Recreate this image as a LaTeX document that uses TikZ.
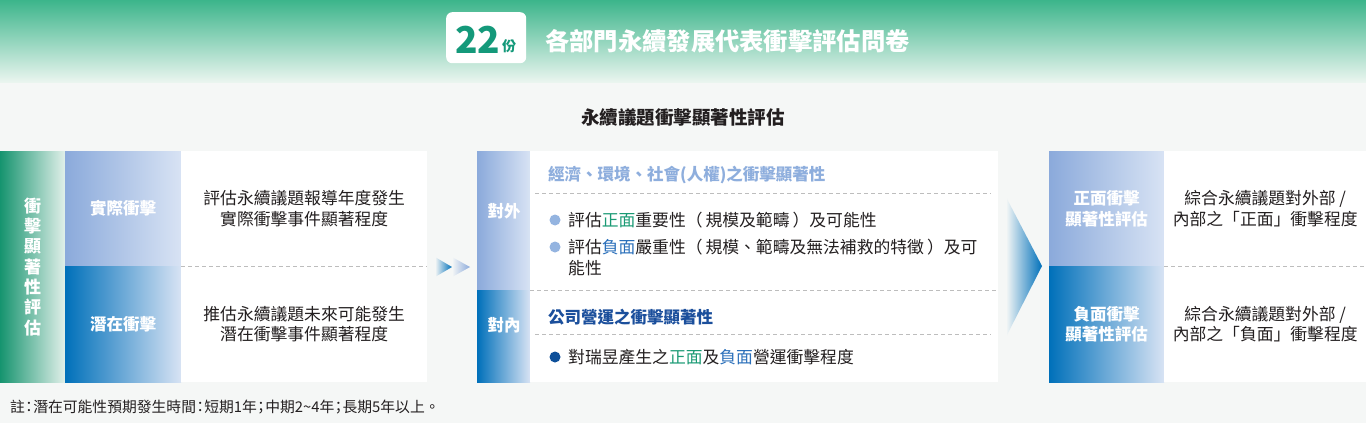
\documentclass[tikz,border=0pt]{standalone}
\usepackage{fontspec}
\newfontfamily\cjk{Noto Sans CJK TC}
\definecolor{bg}{HTML}{F5F7F6}
\definecolor{hgA}{HTML}{3CB58B}
\definecolor{hgB}{HTML}{5DBE98}
\definecolor{hgC}{HTML}{EAF5EF}
\definecolor{badgeg}{HTML}{14997A}
\definecolor{gA}{HTML}{16946F}
\definecolor{gB}{HTML}{7FC2A9}
\definecolor{gC}{HTML}{E2F0EA}
\definecolor{lbA}{HTML}{8BAADB}
\definecolor{lbC}{HTML}{D8E3F4}
\definecolor{dbA}{HTML}{0070BA}
\definecolor{dbB}{HTML}{5B93D0}
\definecolor{txt}{HTML}{231F20}
\definecolor{hlight}{HTML}{8EAEDD}
\definecolor{hdark}{HTML}{1B4F9C}
\definecolor{posg}{HTML}{1A9A74}
\definecolor{negb}{HTML}{2A6FBA}
\definecolor{bul1}{HTML}{94B4E0}
\definecolor{bul3}{HTML}{0D4F99}
\definecolor{dashc}{HTML}{BDBDBD}
\newcommand\zhcolon{\kern-0.22em：\kern-0.22em}
\newcommand\zhsemi{\kern-0.22em；\kern-0.22em}
\newcommand\lpar{（\hspace{3pt}}
\newcommand\rpar{\hspace{3pt}）}
\begin{document}
\begin{tikzpicture}[x=1pt,y=-1pt,font=\cjk,
  cellbase/.style={anchor=north west,inner sep=0pt,draw=none,align=center},
  gcell/.style={cellbase,left color=gA,middle color=gB,right color=gC,text=white,
    font=\cjk\bfseries\fontsize{17}{20.3}\selectfont},
  lcell/.style={cellbase,left color=lbA,right color=lbC,text=white,
    font=\cjk\bfseries\fontsize{16.5}{20.5}\selectfont},
  dcell/.style={cellbase,left color=dbA,middle color=dbB,right color=lbC,text=white,
    font=\cjk\bfseries\fontsize{16.5}{20.5}\selectfont},
  wcell/.style={cellbase,fill=white,text=txt,
    font=\cjk\fontsize{16.8}{20.5}\selectfont},
  lab/.style={inner sep=0pt,text=white,font=\cjk\bfseries\fontsize{16.5}{20.5}\selectfont},
  body/.style={anchor=west,inner sep=0pt,text=txt,font=\cjk\fontsize{16.8}{20.5}\selectfont},
  head/.style={anchor=west,inner sep=0pt,font=\cjk\bfseries\fontsize{16.5}{20}\selectfont},
  bullet/.style={circle,inner sep=0pt,minimum size=11pt},
  dline/.style={draw=dashc,line width=0.8pt,dash pattern=on 4pt off 3pt}
]
\useasboundingbox (0,0) rectangle (1366,423);
\fill[bg] (0,0) rectangle (1366,423);
% header band
\shade[top color=hgA,middle color=hgB,bottom color=hgC] (0,0) rectangle (1366,82);
\node[fill=white,rounded corners=6pt,minimum width=80pt,minimum height=51pt,
  anchor=north west,inner sep=0pt] (badge) at (446,12) {};
\node[anchor=base west,inner sep=0pt,text=badgeg,font=\cjk\bfseries\fontsize{37}{37}\selectfont] (n22) at (455,53) {22};
\node[anchor=base west,inner sep=0pt,text=badgeg,font=\cjk\bfseries\fontsize{14}{14}\selectfont] (fen) at (502,51) {份};
\node[anchor=west,inner sep=0pt,text=white,font=\cjk\bfseries\fontsize{24.3}{24}\selectfont] (title) at (545,41) {各部門永續發展代表衝擊評估問卷};
\node[inner sep=0pt,text=txt,font=\cjk\bfseries\fontsize{18.5}{20}\selectfont] (sub) at (683,117) {永續議題衝擊顯著性評估};
% left block
\node[gcell,minimum width=65pt,minimum height=231pt] (g) at (0,151) {衝\\擊\\顯\\著\\性\\評\\估};
\node[lcell,minimum width=116pt,minimum height=115pt] (a1) at (65,151) {實際衝擊};
\node[dcell,minimum width=116pt,minimum height=116pt] (a2) at (65,266) {潛在衝擊};
\node[wcell,minimum width=246pt,minimum height=115pt] (b1) at (181,151) {評估永續議題報導年度發生\\實際衝擊事件顯著程度};
\node[wcell,minimum width=246pt,minimum height=116pt] (b2) at (181,266) {推估永續議題未來可能發生\\潛在衝擊事件顯著程度};
\draw[dline] (b1.south west) -- (b1.south east);
% double arrow
\shade[left color=bg,right color=dbA] (435,257) -- (452,267) -- (435,277) -- cycle;
\shade[left color=bg,right color=lbA] (452,257) -- (470,267) -- (452,277) -- cycle;
% middle block
\node[lcell,minimum width=53pt,minimum height=139pt] (c1) at (477,151) {};
\node[dcell,minimum width=53pt,minimum height=92pt] (c2) at (477,290) {};
\node[lab] (c1t) at (504,211) {對外};
\node[lab] (c2t) at (504,325) {對內};
\node[wcell,minimum width=468pt,minimum height=139pt] (d1) at (530,151) {};
\node[wcell,minimum width=468pt,minimum height=92pt] (d2) at (530,290) {};
\draw[dline] (d1.south west) -- (d1.south east);
\node[head,text=hlight] (h1) at (548,175) {經濟、環境、社會(人權)之衝擊顯著性};
\coordinate (h1l) at (535,193);
\coordinate (h1r) at (991,193);
\draw[dline] (h1l) -- (h1r);
\node[bullet,fill=bul1] (bu1) at (555,220) {};
\node[body] (t1) at (568,220) {評估{\color{posg}正面}重要性\lpar 規模及範疇\rpar 及可能性};
\node[bullet,fill=bul1] (bu2) at (555,247) {};
\node[body] (t2) at (568,247) {評估{\color{negb}負面}嚴重性\lpar 規模、範疇及無法補救的特徵\rpar 及可};
\node[body] (t2b) at (568,268) {能性};
\node[head,text=hdark] (h2) at (548,317) {公司營運之衝擊顯著性};
\coordinate (h2l) at (535,334);
\coordinate (h2r) at (991,334);
\draw[dline] (h2l) -- (h2r);
\node[bullet,fill=bul3] (bu3) at (555,357) {};
\node[body] (t3) at (568,357) {對瑞昱產生之{\color{posg}正面}及{\color{negb}負面}營運衝擊程度};
% big arrow
\shade[left color=bg,middle color=lbA!80!dbA,right color=dbA] (1006,197) -- (1042,266) -- (1006,337) -- cycle;
% right block
\node[lcell,minimum width=115pt,minimum height=115pt] (e1) at (1049,151) {正面衝擊\\顯著性評估};
\node[dcell,minimum width=115pt,minimum height=116pt] (e2) at (1049,266) {負面衝擊\\顯著性評估};
\node[wcell,minimum width=202pt,minimum height=115pt] (f1) at (1164,151) {綜合永續議題對外部 /\\內部之「正面」衝擊程度};
\node[wcell,minimum width=202pt,minimum height=116pt] (f2) at (1164,266) {綜合永續議題對外部 /\\內部之「負面」衝擊程度};
\draw[dline] (f1.south west) -- (f1.south east);
% note
\node[anchor=west,inner sep=0pt,text=txt,font=\cjk\fontsize{14.8}{16}\selectfont] (note) at (10,407) {註\zhcolon 潛在可能性預期發生時間\zhcolon 短期1年\zhsemi 中期2\textasciitilde 4年\zhsemi 長期5年以上。};
\end{tikzpicture}
\end{document}
